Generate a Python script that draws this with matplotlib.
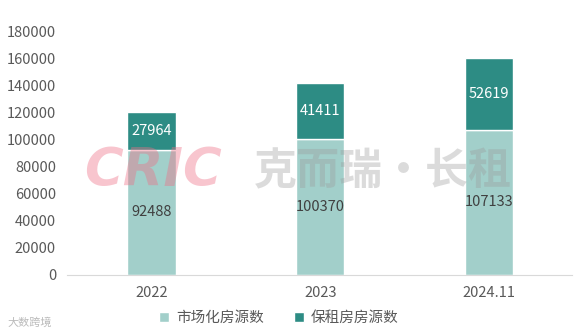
import matplotlib
matplotlib.use("Agg")
import matplotlib.pyplot as plt

plt.rcParams['font.family'] = ['Noto Sans CJK SC', 'DejaVu Sans']

years       = ['2022', '2023', '2024.11']
market_rent = [92488, 100370, 107133]
public_rent = [27964, 41411, 52619]
y_ticks     = [0, 20000, 40000, 60000, 80000, 100000, 120000, 140000, 160000, 180000]

light_teal = '#a2cfca'
dark_teal  = '#2d8c84'
text_grey  = '#595959'

fig = plt.figure(figsize=(5.84, 3.34), dpi=100)
ax = fig.add_axes([0.115, 0.177, 0.864, 0.730])

x = list(range(len(years)))
width = 0.285
b1 = ax.bar(x, market_rent, width, color=light_teal, edgecolor='white', linewidth=1.0,
            label='市场化房源数', zorder=2)
b2 = ax.bar(x, public_rent, width, bottom=market_rent, color=dark_teal, edgecolor='white',
            linewidth=1.0, label='保租房房源数', zorder=2)

ax.bar_label(b1, labels=[str(v) for v in market_rent], label_type='center',
             color='#404040', fontsize=10.5, zorder=3)
ax.bar_label(b2, labels=[str(v) for v in public_rent], label_type='center',
             color='white', fontsize=10.5, zorder=3)

ax.set_ylim(0, 180000)
ax.set_xlim(-0.5, 2.49)
ax.set_yticks(y_ticks)
ax.set_yticklabels([str(t) for t in y_ticks])
ax.set_xticks(x)
ax.set_xticklabels(years)
ax.tick_params(axis='both', length=0, labelsize=10.5, labelcolor=text_grey)
ax.tick_params(axis='y', pad=8)
ax.tick_params(axis='x', pad=8)
for side in ['top', 'right', 'left']:
    ax.spines[side].set_visible(False)
ax.spines['bottom'].set_color('#d9d9d9')

ax.legend(loc='upper center', bbox_to_anchor=(0.42, -0.095), ncol=2, frameon=False,
          fontsize=10.5, handlelength=0.7, handleheight=0.7, columnspacing=2.0,
          handletextpad=0.5, labelcolor=text_grey)

# watermark
fig.text(0.262, 0.487, 'CRIC', fontsize=38, fontweight='bold', fontstyle='italic',
         color='#ee6f86', alpha=0.4, ha='center', va='center', family='DejaVu Sans', zorder=10)
fig.text(0.655, 0.487, '克而瑞·长租', fontsize=31, fontweight='bold',
         color='#9a9a9a', alpha=0.35, ha='center', va='center', zorder=10)
fig.text(0.012, 0.035, '大数跨境', fontsize=8, color='#bbbbbb', ha='left', va='center')

fig.savefig('out.png', dpi=100)
